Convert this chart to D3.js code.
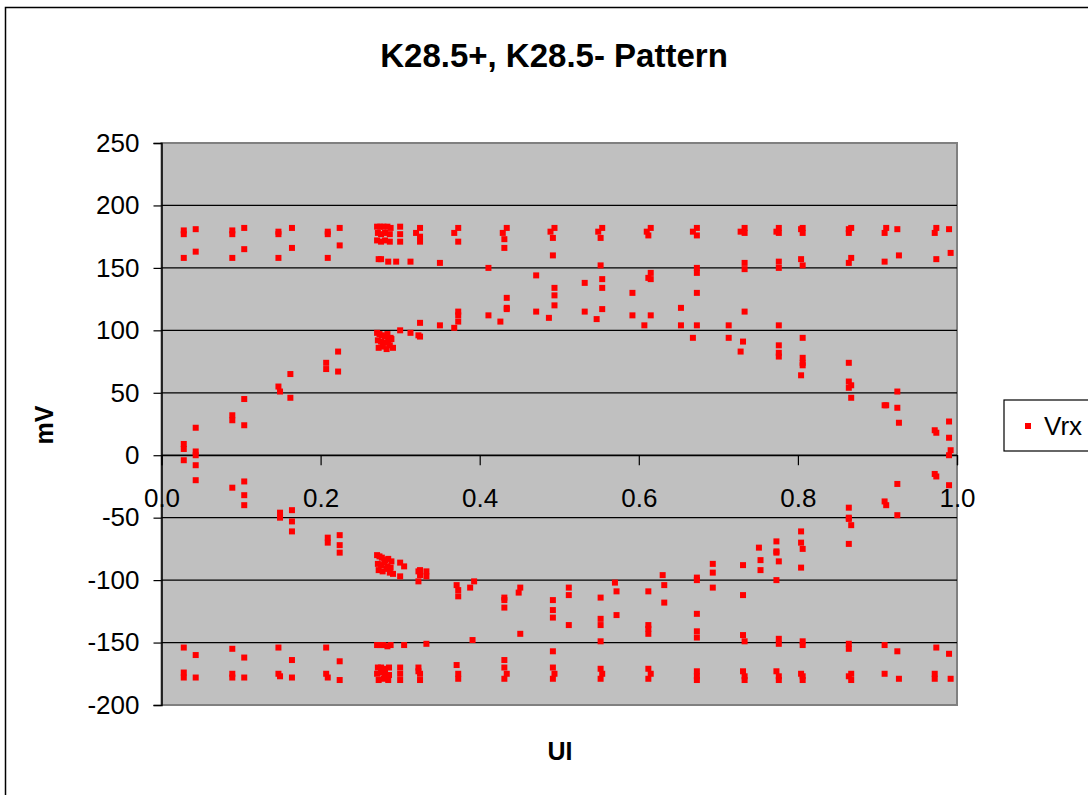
<!DOCTYPE html>
<html><head><meta charset="utf-8">
<script src="https://cdn.jsdelivr.net/npm/d3@7"></script>
<style>
html,body{margin:0;padding:0;background:#fff;}
text{font-family:"Liberation Sans",Arial,sans-serif;}
</style></head>
<body><svg id="c" width="1088" height="795"></svg>
<script>
const title = "K28.5+, K28.5- Pattern";
const xTitle = "UI";
const yTitle = "mV";
const seriesName = "Vrx";
const xTicks = [0, 0.2, 0.4, 0.6, 0.8, 1.0];
const yTicks = [-200, -150, -100, -50, 0, 50, 100, 150, 200, 250];

// UI positions (x) and Vrx values (mV)
const ui = [
 0.028,0.028,0.028,0.028,0.028,0.028,0.028,0.028,0.028,
 0.043,0.043,0.043,0.043,0.043,0.043,0.043,0.043,0.043,
 0.089,0.089,0.089,0.089,0.089,0.089,0.089,0.089,0.089,
 0.104,0.104,0.104,0.104,0.104,0.104,0.104,0.104,0.104,
 0.147,0.147,0.147,0.147,0.149,0.149,0.149,0.147,0.147,0.149,
 0.164,0.164,0.162,0.162,0.164,0.164,0.164,0.164,0.164,
 0.209,0.209,0.209,0.207,0.207,0.209,0.209,0.207,0.207,0.209,
 0.224,0.224,0.222,0.222,0.224,0.224,0.224,0.224,0.224,
 0.271,0.275,0.279,0.284,0.288,0.272,0.276,0.281,0.287,0.271,0.276,0.281,0.287,0.273,0.276,0.285,
 0.271,0.274,0.277,0.281,0.284,0.288,0.272,0.276,0.280,0.285,0.289,0.273,0.278,0.283,0.287,0.291,
 0.271,0.274,0.277,0.281,0.285,0.289,0.272,0.276,0.280,0.284,0.288,0.273,0.278,0.283,0.287,0.291,
 0.271,0.275,0.279,0.284,0.288,0.272,0.276,0.281,0.286,0.271,0.276,0.281,0.286,0.273,0.279,0.285,
 0.300,0.300,0.300,0.295,0.300,0.300,0.300,0.305,0.305,0.300,0.300,0.300,
 0.313,0.320,0.313,
 0.325,0.325,0.325,0.325,0.323,0.325,0.323,0.323,0.325,0.325,0.323,0.325,0.323,0.325,
 0.333,0.333,0.333,
 0.350,0.350,
 0.368,0.373,0.373,0.368,0.373,0.373,0.373,0.371,0.373,0.373,0.371,0.373,0.373,
 0.388,0.393,0.391,
 0.411,0.411,0.426,
 0.429,0.434,0.431,0.431,0.434,0.434,0.434,0.431,0.431,0.431,0.431,0.431,0.434,0.431,
 0.449,0.451,0.451,
 0.471,0.471,0.487,
 0.489,0.494,0.492,0.492,0.494,0.494,0.494,0.492,0.492,0.492,0.492,0.492,0.494,0.492,
 0.512,0.512,0.512,
 0.532,0.532,0.547,
 0.549,0.554,0.552,0.552,0.554,0.554,0.554,0.552,0.552,0.552,0.552,0.552,0.554,0.552,
 0.570,0.572,0.572,
 0.592,0.592,0.607,
 0.610,0.615,0.612,0.615,0.612,0.615,0.615,0.612,0.612,0.612,0.612,0.612,0.615,0.612,
 0.630,0.632,0.632,
 0.653,0.653,
 0.668,0.673,0.673,0.673,0.673,0.673,0.673,0.668,0.673,0.673,0.673,0.673,0.673,0.673,0.673,0.673,
 0.693,0.693,0.693,0.713,0.713,
 0.728,0.733,0.733,0.733,0.733,0.733,0.731,0.728,0.731,0.731,0.731,0.733,0.731,0.733,0.733,
 0.751,0.753,0.753,
 0.773,0.776,0.776,0.776,0.776,0.776,0.776,0.776,0.776,0.773,0.773,0.773,0.776,0.773,0.776,0.773,0.776,0.776,0.776,
 0.804,0.806,0.806,0.804,0.806,0.806,0.806,0.806,0.806,0.804,0.804,0.804,0.806,0.804,0.806,0.804,0.806,0.806,0.806,
 0.864,0.867,0.864,0.867,0.864,0.864,0.864,0.867,0.864,0.867,0.864,0.864,0.867,0.864,0.864,0.864,0.867,0.864,0.867,0.864,
 0.911,0.909,0.909,0.909,0.911,0.909,0.911,0.909,0.909,
 0.925,0.927,0.925,0.925,0.927,0.925,0.925,0.925,0.927,
 0.974,0.972,0.974,0.972,0.974,0.972,0.974,0.974,0.972,0.972,
 0.990,0.992,0.990,0.990,0.992,0.990,0.990,0.990,0.992
];
const mv = [
 180,177,158,9,5,-4,-154,-174,-178,
 181,163,22,3,0,-8,-20,-160,-178,
 180,177,158,32,28,-26,-155,-175,-178,
 182,165,45,24,-21,-32,-40,-162,-178,
 179,177,158,55,51,-46,-50,-154,-175,-177,
 182,166,65,46,-44,-53,-61,-164,-178,
 179,177,158,74,69,-66,-70,-154,-175,-178,
 182,168,83,67,-64,-72,-78,-165,-180,
 183,183,183,183,182,178,177,178,177,172,171,172,171,157,157,155,
 98,97,96,95,97,94,92,91,90,92,93,86,87,85,88,86,
 -80,-81,-82,-84,-83,-85,-87,-88,-86,-89,-90,-92,-93,-91,-94,-95,
 -152,-152,-152,-153,-152,-170,-170,-171,-170,-175,-174,-175,-176,-180,-179,-180,
 183,177,171,155,100,-86,-97,-89,-152,-170,-175,-180,
 98,178,155,
 182,175,171,106,96,95,-93,-101,-92,-96,-170,-175,-173,-180,
 -93,-97,-151,
 154,104,
 178,182,171,102,107,112,115,-104,-108,-113,-168,-175,-179,
 -106,-101,-148,
 150,112,107,
 178,182,173,166,126,118,117,-114,-116,-122,-164,-170,-175,-179,
 -110,-106,-143,
 144,115,110,
 179,182,174,160,134,128,120,-116,-124,-130,-157,-170,-175,-179,
 -106,-112,-136,
 138,115,109,
 179,182,174,152,141,134,117,-114,-131,-136,-149,-171,-175,-179,
 -102,-109,-128,
 130,112,104,
 179,182,176,146,142,141,112,-109,-136,-139,-143,-171,-175,-179,
 -96,-104,-118,
 118,104,
 179,182,176,150,146,130,104,94,-100,-127,-141,-146,-173,-177,-180,-98,
 -87,-94,-106,104,94,
 179,182,178,154,149,115,91,83,-88,-112,-144,-149,-173,-177,-180,
 -74,-84,-92,
 179,182,178,155,150,104,88,82,79,-69,-77,-78,-85,-100,-147,-173,-151,-177,-180,
 181,182,178,157,152,94,78,74,72,64,-61,-70,-75,-90,-149,-175,-152,-177,-180,
 181,182,178,158,154,74,59,56,54,46,-42,-51,-56,-71,-151,-155,-175,-177,-180,-50,
 182,178,155,40,40,-37,-40,-152,-175,
 181,160,51,38,26,-23,-48,-157,-179,
 182,178,157,20,18,-15,-17,-154,-175,-179,
 181,162,27,14,4,0,-24,-159,-179
];

const svg = d3.select("#c");
const W = 1088, H = 795;
const plot = {left: 161.5, right: 957, top: 143, bottom: 705};

// chart border
svg.append("rect").attr("x",5.5).attr("y",7.5).attr("width",W+20).attr("height",H+20)
  .attr("fill","#fff").attr("stroke","#000").attr("stroke-width",1.5);

const x = d3.scaleLinear().domain([0,1]).range([plot.left, plot.right]);
const y = d3.scaleLinear().domain([-200,250]).range([plot.bottom, plot.top]);

// plot area
svg.append("rect").attr("x",plot.left).attr("y",plot.top)
  .attr("width",plot.right-plot.left).attr("height",plot.bottom-plot.top)
  .attr("fill","#c0c0c0").attr("stroke","#808080").attr("stroke-width",2);

// gridlines
svg.append("g").selectAll("line").data(yTicks.filter(v=>v>-200 && v<250)).join("line")
  .attr("x1",plot.left).attr("x2",plot.right)
  .attr("y1",d=>y(d)).attr("y2",d=>y(d))
  .attr("stroke","#000").attr("stroke-width",1.2);

// y axis
const yAxis = d3.axisLeft(y).tickValues(yTicks).tickSize(8).tickPadding(14).tickFormat(d=>String(d));
const gy = svg.append("g").attr("transform",`translate(${plot.left},0)`).call(yAxis);
gy.select(".domain").attr("stroke","#000").attr("stroke-width",1.5);
gy.selectAll(".tick line").attr("stroke","#000").attr("stroke-width",1.2);
gy.selectAll(".tick text").attr("font-size",26).attr("fill","#000")
  .style("font-family","'Liberation Sans',Arial,sans-serif");

// x axis at y=0
const xAxis = d3.axisBottom(x).tickValues(xTicks).tickSize(10).tickPadding(23).tickFormat(d3.format(".1f"));
const gx = svg.append("g").attr("transform",`translate(0,${y(0)})`).call(xAxis);
gx.select(".domain").attr("stroke","#000").attr("stroke-width",1.2);
gx.selectAll(".tick line").attr("stroke","#000").attr("stroke-width",1.2);
gx.selectAll(".tick text").attr("font-size",26).attr("fill","#000")
  .style("font-family","'Liberation Sans',Arial,sans-serif");

// points
const pts = ui.map((u,i)=>({u, v: mv[i]}));
const s = 6;
svg.append("g").selectAll("rect").data(pts).join("rect")
  .attr("x",d=>x(d.u)-s/2).attr("y",d=>y(d.v)-s/2)
  .attr("width",s).attr("height",s).attr("fill","#ff0000");

// title
svg.append("text").attr("x",554).attr("y",67).attr("text-anchor","middle")
  .attr("font-size",33).attr("font-weight","bold").text(title);
// axis titles
svg.append("text").attr("x",560).attr("y",760).attr("text-anchor","middle")
  .attr("font-size",25).attr("font-weight","bold").text(xTitle);
svg.append("text").attr("transform","translate(53,425) rotate(-90)").attr("text-anchor","middle")
  .attr("font-size",25).attr("font-weight","bold").text(yTitle);

// legend
const lg = svg.append("g");
lg.append("rect").attr("x",1004).attr("y",400).attr("width",120).attr("height",51)
  .attr("fill","#fff").attr("stroke","#000").attr("stroke-width",1.2);
lg.append("rect").attr("x",1025).attr("y",423).attr("width",s).attr("height",s).attr("fill","#ff0000");
lg.append("text").attr("x",1044).attr("y",435).attr("font-size",26).text(seriesName);
</script></body></html>
